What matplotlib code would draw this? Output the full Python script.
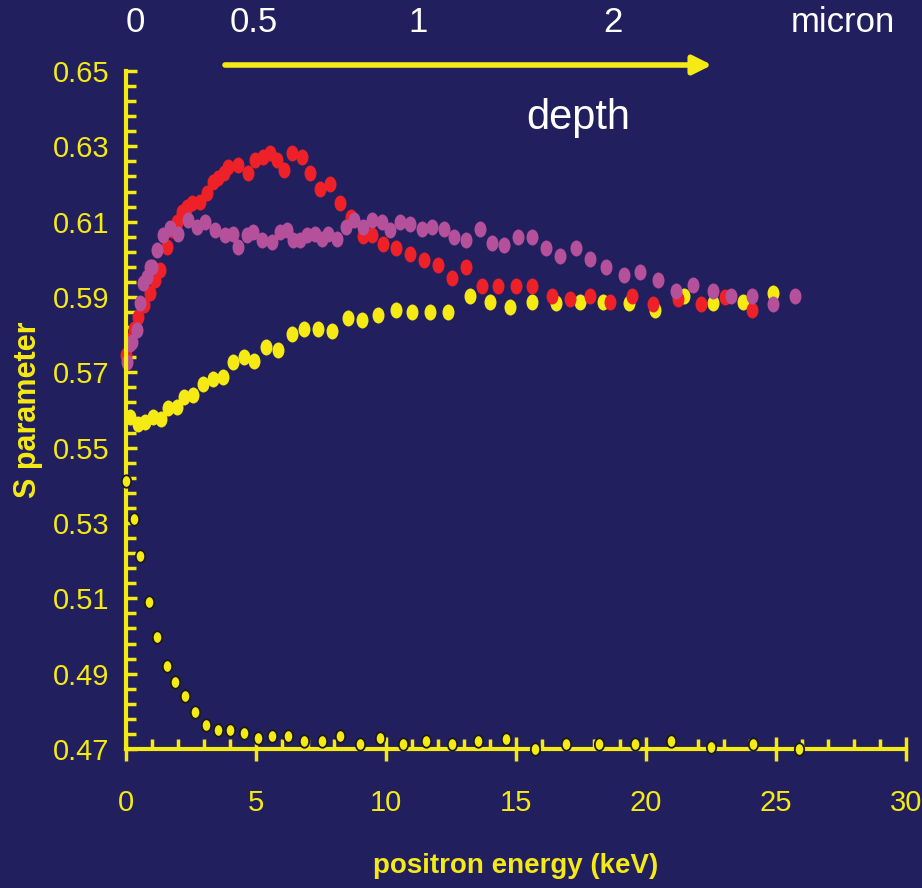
import matplotlib
matplotlib.use("Agg")
import matplotlib.pyplot as plt
import numpy as np
from matplotlib.path import Path
from matplotlib.transforms import Affine2D

# 顏色
BG = "#211f5e"
YEL = "#f6ea14"
RED = "#ee2128"
PUR = "#b5519b"

# 參考樣品 (黑框黃點)
e_ref = [0, 0.31, 0.55, 0.87, 1.18, 1.56, 1.87, 2.26, 2.64, 3.08, 3.55, 4.01, 4.55, 5.09,
         5.63, 6.24, 6.86, 7.55, 8.23, 9.0, 9.77, 10.64, 11.54, 12.53, 13.53, 14.6, 15.74,
         16.91, 18.2, 19.59, 20.97, 22.5, 24.1, 25.88]
s_ref = [0.5411, 0.5311, 0.5212, 0.509, 0.4998, 0.492, 0.4877, 0.4841, 0.4799, 0.4763,
         0.475, 0.475, 0.4742, 0.4728, 0.4735, 0.4735, 0.4721, 0.4721, 0.4735, 0.4714,
         0.4728, 0.4713, 0.472, 0.4713, 0.472, 0.4727, 0.4699, 0.4713, 0.4713, 0.4713,
         0.472, 0.4706, 0.4713, 0.4699]

# 黃色
e_yel = [0.15, 0.47, 0.73, 1.03, 1.33, 1.63, 1.95, 2.23, 2.56, 2.95, 3.33, 3.72, 4.1, 4.54,
         4.92, 5.38, 5.85, 6.4, 6.85, 7.38, 7.92, 8.55, 9.08, 9.69, 10.37, 10.99, 11.69,
         12.4, 13.23, 14.0, 14.77, 15.62, 16.54, 17.46, 18.36, 19.36, 20.36, 21.46, 22.59,
         23.74, 24.9]
s_yel = [0.5582, 0.5564, 0.5569, 0.5582, 0.5576, 0.5604, 0.5609, 0.5635, 0.564, 0.567,
         0.5681, 0.5688, 0.5727, 0.574, 0.573, 0.5766, 0.5759, 0.5803, 0.5816, 0.5816,
         0.5810, 0.5843, 0.5838, 0.5851, 0.5865, 0.5859, 0.5859, 0.5859, 0.5902, 0.5888,
         0.5873, 0.5888, 0.5885, 0.5886, 0.5888, 0.5885, 0.5865, 0.5902, 0.5885, 0.5888,
         0.591]

# 紅色
e_red = [0.0, 0.15, 0.3, 0.47, 0.7, 0.92, 1.12, 1.31, 1.56, 1.76, 1.95, 2.14, 2.33, 2.53,
         2.85, 3.1, 3.36, 3.55, 3.75, 3.93, 4.32, 4.7, 4.96, 5.28, 5.54, 5.8, 6.08, 6.4,
         6.76, 7.08, 7.46, 7.85, 8.23, 8.64, 9.13, 9.45, 9.9, 10.38, 10.92, 11.46, 12.01,
         12.54, 13.08, 13.69, 14.31, 15.0, 15.62, 16.38, 17.08, 17.85, 18.62, 19.46, 20.28,
         21.23, 22.13, 23.04, 24.06]
s_red = [0.5746, 0.5786, 0.5815, 0.5848, 0.588, 0.591, 0.5945, 0.5972, 0.6033, 0.6078,
         0.610, 0.6126, 0.614, 0.6149, 0.6153, 0.6175, 0.6206, 0.6215, 0.623, 0.6246,
         0.625, 0.6228, 0.6264, 0.6272, 0.6281, 0.6264, 0.6237, 0.6281, 0.6272, 0.6228,
         0.6188, 0.6201, 0.615, 0.6113, 0.6062, 0.6064, 0.6042, 0.6029, 0.6015, 0.5999,
         0.5986, 0.5951, 0.598, 0.5929, 0.5929, 0.5929, 0.5929, 0.5902, 0.5895, 0.5902,
         0.5888, 0.5902, 0.5881, 0.5895, 0.5881, 0.5899, 0.5865]

# 紫色
e_pur = [0.03, 0.15, 0.22, 0.41, 0.54, 0.67, 0.8, 0.92, 0.99, 1.18, 1.44, 1.69, 2.01, 2.4,
         2.72, 3.04, 3.42, 3.81, 4.1, 4.32, 4.64, 4.9, 5.22, 5.6, 5.92, 6.18, 6.44, 6.69,
         6.95, 7.27, 7.53, 7.78, 8.1, 8.46, 8.77, 9.13, 9.45, 9.83, 10.15, 10.54, 10.92,
         11.37, 11.78, 12.23, 12.62, 13.08, 13.62, 14.08, 14.54, 15.08, 15.62, 16.15, 16.69,
         17.31, 17.85, 18.46, 19.15, 19.77, 20.45, 21.15, 21.82, 22.59, 23.28, 24.08, 24.9,
         25.74]
s_pur = [0.5728, 0.5776, 0.5781, 0.5812, 0.5883, 0.5936, 0.5954, 0.598, 0.598, 0.6024,
         0.6064, 0.6082, 0.6068, 0.6104, 0.6086, 0.61, 0.6078, 0.6064, 0.6068, 0.6033,
         0.6064, 0.6073, 0.6051, 0.6046, 0.6073, 0.6078, 0.6051, 0.6051, 0.6064, 0.6068,
         0.6055, 0.6068, 0.6055, 0.6086, 0.6104, 0.6086, 0.6104, 0.61, 0.6078, 0.61,
         0.6095, 0.608, 0.6087, 0.608, 0.6058, 0.6051, 0.608, 0.6044, 0.6037, 0.6058,
         0.6058, 0.603, 0.6009, 0.603, 0.6001, 0.598, 0.5959, 0.5966, 0.5945, 0.5916,
         0.5931, 0.5916, 0.5902, 0.5902, 0.5881, 0.5902]

# 刻度
x_major = [0, 5, 10, 15, 20, 25, 30]
y_major = [0.47, 0.49, 0.51, 0.53, 0.55, 0.57, 0.59, 0.61, 0.63, 0.65]

# 上方深度標示 (文字, 像素 x)
depth_labels = ["0", "0.5", "1", "2", "micron"]
depth_px = [135, 254, 418, 613, 843]

W, H = 922, 888
fig = plt.figure(figsize=(W / 100, H / 100), dpi=100, facecolor=BG)
ax = fig.add_axes([126 / W, 1 - 749 / H, 780 / W, 678 / H], facecolor=BG)

# 橢圓點 (原圖被拉高)
ell = Path.unit_circle().transformed(Affine2D().scale(0.75, 1.0))

ax.plot(e_yel, s_yel, ls="none", marker=ell, ms=11.5, mfc=YEL, mec="none", clip_on=False)
ax.plot(e_red, s_red, ls="none", marker=ell, ms=11.5, mfc=RED, mec="none", clip_on=False)
ax.plot(e_pur, s_pur, ls="none", marker=ell, ms=11.5, mfc=PUR, mec="none", clip_on=False)
ax.plot(e_ref, s_ref, ls="none", marker=ell, ms=9, mfc=YEL, mec="#1a1a1a", mew=1.3,
        clip_on=False, zorder=5)

ax.set_xlim(0, 30)
ax.set_ylim(0.47, 0.65)

for s in ["top", "right"]:
    ax.spines[s].set_visible(False)
for s in ["left", "bottom"]:
    ax.spines[s].set_color(YEL)
    ax.spines[s].set_linewidth(3)
    ax.spines[s].set_zorder(4)

ax.set_xticks(x_major)
ax.set_xticks(np.arange(0, 31, 1), minor=True)
ax.set_yticks(y_major)
ax.set_yticklabels([f"{v:.2f}" for v in y_major])
ax.set_yticks(np.linspace(0.47, 0.65, 46), minor=True)

font = ["Liberation Sans", "DejaVu Sans"]
ax.tick_params(axis="x", which="major", direction="inout", length=17, width=2.5,
               color=YEL, labelcolor=YEL, labelsize=21, pad=20)
ax.tick_params(axis="x", which="minor", direction="in", length=7, width=2.5, color=YEL)
ax.tick_params(axis="y", which="major", direction="in", length=8, width=2.5,
               color=YEL, labelcolor=YEL, labelsize=21, pad=12)
ax.tick_params(axis="y", which="minor", direction="in", length=7, width=2.5, color=YEL)
for lab in ax.get_xticklabels() + ax.get_yticklabels():
    lab.set_family(font)

ax.set_xlabel("positron energy (keV)", color=YEL, fontsize=20, fontweight="bold",
              family=font, va="center")
ax.xaxis.set_label_coords(0.5, -(866 - 749) / 678)
ax.set_ylabel("S parameter", color=YEL, fontsize=22, fontweight="bold",
              family=font, va="center")
ax.yaxis.set_label_coords((28 - 126) / 780, 0.5)

# 深度
for lab, px in zip(depth_labels, depth_px):
    fig.text(px / W, 1 - 22 / H, lab, color="white", fontsize=25, ha="center", va="center",
             family=font)
fig.text(578 / W, 1 - 118 / H, "depth", color="white", fontsize=30, ha="center", va="center",
         family=font)
ax.annotate("", xy=(712 / W, 1 - 65 / H), xytext=(225 / W, 1 - 65 / H),
            xycoords="figure fraction", textcoords="figure fraction",
            arrowprops=dict(arrowstyle="-|>", color=YEL, lw=4, mutation_scale=28,
                            shrinkA=0, shrinkB=0))

fig.savefig("out.png", dpi=100, facecolor=BG)
